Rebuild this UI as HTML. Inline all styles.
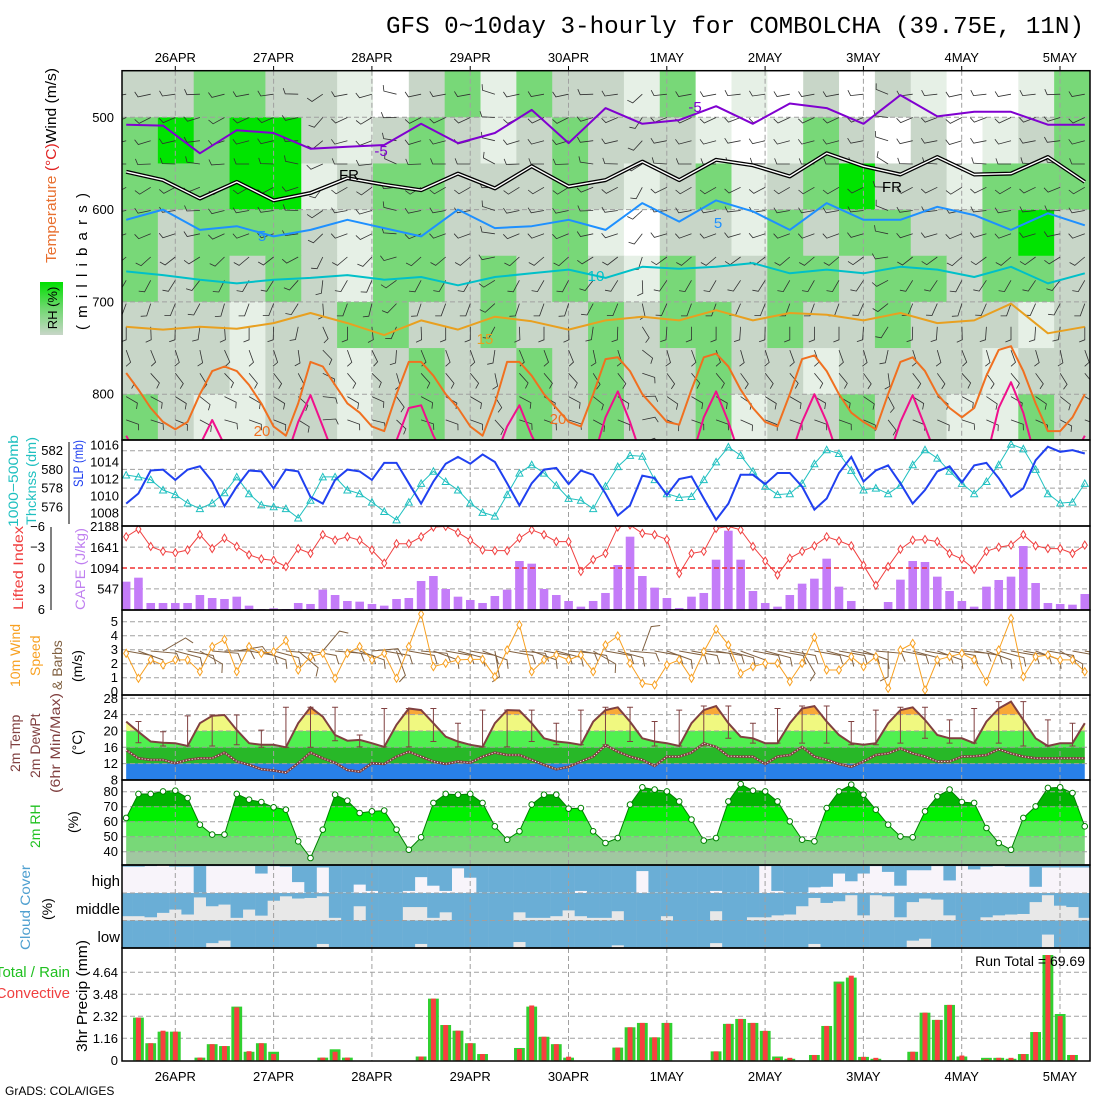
<!DOCTYPE html>
<html><head><meta charset="utf-8"><title>GFS meteogram COMBOLCHA</title>
<style>
html,body{margin:0;padding:0;background:#fff;}
svg{display:block;font-family:"Liberation Sans",sans-serif;}
</style></head>
<body>
<svg id="chart" width="1100" height="1100" viewBox="0 0 1100 1100" xmlns="http://www.w3.org/2000/svg">
<defs>
<clipPath id="cTop"><rect x="122" y="70.7" width="968" height="369.3"/></clipPath>
<clipPath id="cSlp"><rect x="122" y="440" width="968" height="86"/></clipPath>
<clipPath id="cCape"><rect x="122" y="526" width="968" height="84"/></clipPath>
<clipPath id="cWind"><rect x="122" y="610" width="968" height="85"/></clipPath>
<clipPath id="cTemp"><rect x="122" y="695" width="968" height="85"/></clipPath>
<clipPath id="cRh"><rect x="122" y="780" width="968" height="85"/></clipPath>
<clipPath id="cCloud"><rect x="122" y="865" width="968" height="83"/></clipPath>
<clipPath id="cPrecip"><rect x="122" y="948" width="968" height="113"/></clipPath>
<linearGradient id="rhbarGrad" x1="0" y1="0" x2="0" y2="1">
<stop offset="0" stop-color="#00e000"/><stop offset="0.5" stop-color="#70d870"/><stop offset="1" stop-color="#c8d6c8"/>
</linearGradient>
</defs>

<text x="386" y="33" font-family="Liberation Mono, monospace" font-size="24" textLength="698" lengthAdjust="spacingAndGlyphs">GFS 0~10day 3-hourly for COMBOLCHA (39.75E, 11N)</text>

<g id="gTop" clip-path="url(#cTop)"></g>
<g id="gSlp" clip-path="url(#cSlp)"></g>
<g id="gCape" clip-path="url(#cCape)"></g>
<g id="gWind" clip-path="url(#cWind)"></g>
<g id="gTemp" clip-path="url(#cTemp)"></g>
<g id="gRh" clip-path="url(#cRh)"></g>
<g id="gCloud" clip-path="url(#cCloud)"></g>
<g id="gPrecip" clip-path="url(#cPrecip)"></g>
<g id="gFrame"></g>
<g id="gAxis" font-size="13"></g>

<g>
<rect x="40" y="282" width="23" height="53" fill="url(#rhbarGrad)"/>
<text transform="translate(57,308) rotate(-90)" text-anchor="middle" font-size="13">RH (%)</text>
<text transform="translate(56,263) rotate(-90)" font-size="15" textLength="195" lengthAdjust="spacingAndGlyphs"><tspan fill="#e87030">Temperature</tspan><tspan fill="#e02020"> (°C)</tspan><tspan fill="#000">Wind (m/s)</tspan></text>
<text transform="translate(87,330) rotate(-90)" font-size="15" textLength="137" lengthAdjust="spacing">(millibars)</text>
</g>
<g font-size="14">
<text transform="translate(18,527) rotate(-90)" fill="#20c0c0" textLength="92" lengthAdjust="spacingAndGlyphs">1000−500mb</text>
<text transform="translate(36,525) rotate(-90)" fill="#20c0c0" textLength="88" lengthAdjust="spacingAndGlyphs">Thcknss (dm)</text>
<text transform="translate(83,487) rotate(-90)" fill="#2040f0" textLength="47" lengthAdjust="spacingAndGlyphs">SLP (mb)</text>
<text transform="translate(23,610) rotate(-90)" fill="#f04040" textLength="84" lengthAdjust="spacingAndGlyphs">Lifted Index</text>
<text transform="translate(85,610) rotate(-90)" fill="#c080f0" textLength="82" lengthAdjust="spacingAndGlyphs">CAPE (J/kg)</text>
<text transform="translate(20,687) rotate(-90)" fill="#f8a020">10m Wind</text>
<text transform="translate(40,676) rotate(-90)" fill="#f8a020">Speed</text>
<text transform="translate(62,690) rotate(-90)" fill="#806040">&amp; Barbs</text>
<text transform="translate(82,682) rotate(-90)" fill="#000">(m/s)</text>
<text transform="translate(20,772) rotate(-90)" fill="#804040">2m Temp</text>
<text transform="translate(40,778) rotate(-90)" fill="#804040">2m DewPt</text>
<text transform="translate(60,793) rotate(-90)" fill="#804040" textLength="100" lengthAdjust="spacingAndGlyphs">(6hr Min/Max)</text>
<text transform="translate(82,755) rotate(-90)" fill="#000">(°C)</text>
<text transform="translate(40,848) rotate(-90)" fill="#20c020">2m RH</text>
<text transform="translate(78,833) rotate(-90)" fill="#000">(%)</text>
<text transform="translate(30,950) rotate(-90)" fill="#50a0d0" textLength="85" lengthAdjust="spacingAndGlyphs">Cloud Cover</text>
<text transform="translate(52,920) rotate(-90)" fill="#000">(%)</text>
<text x="120" y="886" text-anchor="end" font-size="15">high</text>
<text x="120" y="914" text-anchor="end" font-size="15">middle</text>
<text x="120" y="942" text-anchor="end" font-size="15">low</text>
<text x="70" y="977" text-anchor="end" font-size="15" fill="#20c020">Total / Rain</text>
<text x="70" y="998" text-anchor="end" font-size="15" fill="#f04040">Convective</text>
<text transform="translate(87,1052) rotate(-90)" fill="#000" font-size="15" textLength="112" lengthAdjust="spacingAndGlyphs">3hr Precip (mm)</text>
<text x="1085" y="966" text-anchor="end" font-size="14">Run Total = 69.69</text>
<text x="5" y="1095" font-size="12">GrADS: COLA/IGES</text>
</g>

<script>
const dayLabels = ['26APR','27APR','28APR','29APR','30APR','1MAY','2MAY','3MAY','4MAY','5MAY'];
const pressTicks = [500,600,700,800];
const thickTicks = [582,580,578,576];
const slpTicks = [1016,1014,1012,1010,1008];
const liTicks = [-6,-3,0,3,6];
const capeTicks = [547,1094,1641,2188];
const spdTicks = [0,1,2,3,4,5];
const tempTicks = [28,24,20,16,12,8];
const rhTicks = [80,70,60,50,40];
const precipTicks = [0,1.16,2.32,3.48,4.64];

const slp = [1009.1,1010.3,1013.0,1013.1,1011.9,1013.1,1013.5,1011.7,1008.8,1011.1,1013.0,1012.9,1010.9,1013.1,1012.9,1009.9,1009.1,1011.9,1013.1,1012.9,1011.9,1013.9,1013.9,1011.5,1009.1,1011.7,1013.8,1014.6,1013.8,1014.9,1014.0,1011.5,1008.9,1011.5,1013.1,1013.3,1011.4,1013.0,1012.5,1010.3,1007.7,1008.9,1012.4,1012.1,1010.1,1012.0,1012.3,1009.7,1007.2,1009.1,1012.5,1012.5,1011.4,1012.7,1012.7,1011.1,1008.4,1009.7,1012.7,1014.6,1011.7,1013.0,1013.6,1011.5,1009.1,1010.7,1012.9,1013.5,1011.6,1013.6,1013.9,1012.1,1009.9,1010.9,1014.2,1015.8,1015.2,1015.4,1015.0];
const thickness = [579.4,579.2,578.9,577.8,577.3,576.4,575.8,576.4,577.5,579.2,577.4,576.2,576.0,575.8,574.8,576.7,579.2,579.2,577.8,577.4,576.5,575.5,574.6,576.5,578.5,579.8,578.7,577.8,576.4,575.4,575.0,577.3,579.6,580.5,579.6,578.3,576.9,576.7,575.8,578.2,580.3,581.5,581.4,578.9,577.4,577.0,577.1,578.9,580.8,582.4,581.5,579.8,578.2,577.3,577.4,578.5,580.6,582.1,581.7,579.9,577.8,578.0,577.4,578.3,580.5,582.1,581.2,579.8,578.5,577.4,578.7,580.5,582.7,582.2,580.0,577.4,576.4,576.5,578.5];
const cape = [744,849,184,184,184,184,394,315,289,350,114,26,44,26,184,158,534,394,237,219,158,114,289,315,762,893,552,350,263,184,368,534,1287,1217,552,394,237,88,237,447,1182,1926,893,587,315,53,350,447,1322,2084,1322,499,184,88,394,692,823,1348,613,237,26,0,210,797,1287,1261,876,499,237,88,613,788,876,1681,709,184,158,140,420];
const liftedIndex = [-4.5,-5.6,-3.1,-2.4,-2.2,-2.6,-4.8,-2.8,-4.3,-3.1,-1.9,-1.3,-1.1,-0.2,-2.8,-2.1,-4.8,-4.0,-4.5,-4.0,-2.6,-0.7,-3.5,-3.5,-4.5,-5.9,-6.0,-5.1,-4.0,-2.6,-2.5,-2.5,-4.3,-5.5,-4.8,-3.8,-3.8,0.5,-1.2,-2.1,-5.9,-6.2,-5.0,-4.8,-4.1,0.8,-2.1,-2.4,-5.7,-6.0,-5.5,-3.1,-1.0,1.0,-1.4,-2.4,-3.2,-4.5,-3.9,-3.2,-0.4,2.5,-0.2,-2.7,-4.0,-4.1,-3.8,-2.1,-1.3,0.2,-2.4,-3.0,-3.3,-4.8,-3.2,-2.8,-2.8,-2.1,-3.3];
const windSpeed = [2.74,0.96,2.27,1.91,2.27,2.27,1.43,3.22,3.74,1.43,3.22,2.74,2.86,3.65,1.55,2.5,2.74,0.96,2.74,3.22,2.27,2.74,0.96,3.22,5.55,1.79,2.03,2.27,2.31,2.31,1.07,2.98,4.77,1.43,2.27,2.62,2.27,2.62,1.43,3.34,3.98,2.03,0.6,0.48,1.91,2.27,0.96,2.86,4.46,3.34,1.31,1.79,2.03,2.03,0.72,2.03,3.88,1.55,1.55,2.5,1.79,2.5,0.24,2.98,3.45,0.12,2.27,2.5,2.74,2.27,0.72,2.98,5.24,1.07,2.5,2.62,2.27,2.27,1.43];
const windDir = [100,110,95,60,105,100,120,95,90,80,100,110,105,95,130,100,40,95,100,110,85,100,160,100,95,110,100,105,100,110,170,100,95,110,100,105,95,100,120,100,105,95,20,100,110,100,100,95,100,105,110,100,105,100,100,150,100,105,100,100,110,95,180,100,105,100,110,100,95,100,110,105,100,100,110,100,120,100,100];
const temp2m = [22.3,19.8,17.4,17.1,17.0,16.3,21.9,23.7,23.9,20.2,17.0,16.6,16.6,16.0,21.9,25.8,23.5,19.0,17.6,17.8,17.0,16.1,21.5,25.5,25.1,21.9,18.6,17.4,16.6,16.1,21.9,25.1,25.0,21.9,18.2,17.4,17.1,16.6,22.3,25.1,25.8,22.3,18.2,17.4,17.0,16.3,21.9,25.1,26.1,21.9,18.6,18.2,17.0,17.0,21.9,25.5,26.1,22.3,19.0,17.0,16.6,17.0,21.9,25.1,25.8,22.7,19.0,18.2,18.2,17.0,22.3,25.5,27.2,22.7,18.2,16.3,17.0,17.0,21.9];
const dewPt2m = [15.3,13.3,12.9,12.9,12.1,12.9,13.3,13.3,14.7,12.5,11.7,10.6,10.3,9.8,12.1,14.7,13.3,12.2,10.4,10.0,12.1,11.9,13.7,14.9,13.7,12.5,11.9,12.5,12.2,13.7,14.7,14.1,14.1,12.9,11.7,10.6,11.2,12.5,13.7,16.5,14.9,13.7,12.9,11.4,13.7,13.7,14.7,17.0,16.1,13.8,13.7,13.7,11.9,13.7,14.1,16.1,13.7,12.9,11.9,11.2,12.5,14.1,14.5,15.7,14.5,13.7,12.5,12.5,13.7,13.8,14.1,15.5,14.5,13.7,13.3,13.3,13.3,13.3,13.3];
const rh2m = [62.5,78.5,78.5,80.2,80.7,75.8,58.0,51.4,51.4,78.5,74.7,73.1,69.6,68.0,46.9,35.8,54.7,78.0,74.0,65.8,66.9,67.4,54.7,41.3,49.6,72.5,78.5,78.0,78.5,72.5,56.9,48.0,53.6,71.4,78.0,78.0,68.7,69.1,53.6,45.8,49.1,71.4,82.9,81.4,80.2,73.5,61.4,47.4,49.1,73.5,85.1,80.7,80.2,73.5,60.2,48.0,46.9,69.1,80.2,84.7,78.0,68.0,58.0,50.2,49.6,66.9,76.9,81.4,73.1,72.5,55.8,45.8,41.3,62.5,70.2,82.5,82.9,79.1,56.9];
const cloudHigh = [6,6,4,0,6,6,100,4,4,4,4,31,4,6,62,100,9,100,100,71,94,100,100,94,44,75,94,12,46,100,100,100,100,100,100,100,100,94,100,100,100,100,22,100,100,100,100,100,94,100,100,100,4,94,100,100,81,79,31,59,31,4,25,75,19,19,4,56,4,16,6,4,6,6,79,9,9,9,9];
const cloudMid = [84,84,88,72,60,78,16,48,42,90,60,82,28,12,20,18,12,90,100,48,100,100,100,51,51,90,70,100,100,100,100,100,70,90,90,84,63,84,90,90,66,100,100,100,84,100,100,100,66,100,100,88,88,81,78,48,18,36,30,8,81,8,12,88,33,20,24,81,100,100,88,81,78,76,33,8,46,51,90];
const cloudLow = [100,100,100,100,100,100,100,82,73,100,100,100,100,100,100,100,85,100,100,100,100,100,100,100,85,100,100,100,100,100,100,100,78,100,100,100,100,100,100,100,90,100,100,100,100,100,100,100,82,100,100,100,100,100,100,100,85,100,100,100,100,100,100,100,73,66,100,100,100,100,100,100,100,100,100,51,100,100,100];
const precipTotal = [0,2.25,0.9,1.51,1.51,0,0.14,0.85,0.75,2.83,0.45,0.9,0.45,0,0,0,0.14,0.58,0.14,0,0,0,0,0,0.2,3.25,1.86,1.56,0.9,0.33,0,0,0.65,2.83,1.24,0.85,0.14,0,0,0,0.67,1.74,1.97,1.21,1.97,0,0,0,0.47,1.92,2.18,1.97,1.55,0.2,0.08,0,0.28,1.81,4.15,4.36,0.18,0.08,0,0,0.45,2.51,2.13,2.92,0.2,0,0.13,0.13,0.08,0.33,1.49,5.55,2.44,0.28,0];
const precipConv = [0,2.25,0.9,1.56,1.51,0,0.14,0.85,0.75,2.79,0.48,0.9,0.33,0,0,0,0.14,0.45,0.14,0,0,0,0,0,0.2,3.25,1.86,1.56,0.9,0.33,0,0,0.6,2.89,1.24,0.85,0.19,0,0,0,0.67,1.74,1.97,1.21,1.97,0,0,0,0.47,1.92,2.18,1.97,1.55,0.13,0.13,0,0.28,1.81,4.04,4.46,0.18,0.13,0,0,0.45,2.51,2.13,2.92,0.25,0,0.05,0.13,0.13,0.33,1.49,5.55,2.33,0.28,0];

const rhRow0 = [2,2,3,3,2,2,1,0,2,3,1,3,2,2,1,3,0,1,0,2,0,2,1,0,0,1,3];
const rhRow1 = [3,4,3,4,4,2,1,2,3,2,1,2,3,2,2,2,1,0,1,3,2,0,2,0,1,2,3];
const rhRow2 = [3,3,3,4,4,1,2,3,3,2,2,2,3,2,1,2,3,1,2,3,4,2,2,1,3,3,3];
const rhRow3 = [3,2,3,3,3,2,1,3,3,2,2,2,3,1,0,2,2,1,3,2,3,3,2,2,3,4,2];
const rhRow4 = [3,2,3,2,3,2,1,3,3,2,3,2,3,2,1,3,2,2,3,3,2,3,3,2,3,3,2];
const rhRow5 = [2,2,2,1,2,2,3,3,2,2,3,2,2,3,2,3,3,2,3,2,2,3,2,2,2,1,2];
const rhRow6 = [2,2,2,1,2,2,1,2,3,2,2,3,2,3,2,2,3,2,2,1,2,2,2,2,1,2,2];
const rhRow7 = [3,2,1,1,2,2,1,2,3,2,2,3,2,3,2,2,3,1,2,2,3,2,2,1,1,3,2];
const isoM5 = [508,509,539,514,517,534,532,530,507,528,517,492,528,490,507,503,488,507,485,490,507,476,499,494,494,508,508];
const iso0 = [559,568,588,570,590,582,566,573,579,561,577,553,575,568,548,568,546,552,564,539,553,562,543,562,561,543,570];
const iso5 = [611,600,622,618,629,622,611,620,629,600,620,618,611,622,593,613,590,602,622,593,611,611,597,606,622,604,617];
const iso10 = [667,671,676,680,676,674,671,676,673,682,673,669,665,674,662,664,662,658,669,665,669,662,665,673,662,680,669];
const iso15 = [727,730,727,729,723,712,723,736,720,730,716,721,730,720,716,720,709,720,712,714,720,712,723,720,702,734,727];
const iso20 = [777,795,815,830,838,830,800,775,770,775,790,810,835,845,810,765,770,790,810,820,835,840,800,765,765,780,800,815,835,845,810,765,765,780,800,815,830,835,800,762,760,775,800,815,830,833,795,760,756,770,795,815,830,835,800,762,758,775,800,820,830,838,800,765,760,775,800,815,825,815,780,752,748,775,810,840,840,825,800];
const iso25 = [845,870,870,870,870,870,855,828,855,870,870,870,870,870,830,801,835,870,870,870,870,870,850,815,812,845,870,870,870,870,870,835,812,845,870,870,870,870,870,825,797,830,870,870,870,870,870,825,797,830,870,870,870,870,870,830,800,830,870,870,870,870,870,830,801,835,870,870,870,870,870,815,787,820,870,870,870,870,845];
const upperDirs = [250,260,245,255,270,240,260,250,230,210,200,180,160,140,120,110,100];

const NS = 'http://www.w3.org/2000/svg';
function mk(tag, parent, attrs) {
  const e = document.createElementNS(NS, tag);
  for (const k in attrs) e.setAttribute(k, attrs[k]);
  parent.appendChild(e);
  return e;
}
const X0 = 122, X1 = 1090;
const xAt = i => 126.15 + 12.29 * i;
const dayX = d => 175.3 + 98.3 * d;
const pY = p => 117.3 + (p - 500) * 0.923;
const ySlp = v => 445 + (1016 - v) * 8.5;
const yTh = v => 450.7 + (582 - v) * 9.35;
const yCape = v => 610 - v * 83.3 / 2188;
const yLI = v => 568 + v * 6.94;
const ySpd = v => 691.7 - v * 14;
const yT = v => 698.3 + (28 - v) * 4.08;
const yRH = v => 791.7 + (80 - v) * 1.5;
const yP = v => 1060.3 - v * 18.97;
const pts = (arr, yf, xf) => arr.map((v, i) => (xf ? xf(i) : xAt(i)).toFixed(1) + ',' + yf(v).toFixed(1)).join(' ');

const gTop = document.getElementById('gTop');
const gSlp = document.getElementById('gSlp');
const gCape = document.getElementById('gCape');
const gWind = document.getElementById('gWind');
const gTemp = document.getElementById('gTemp');
const gRh = document.getElementById('gRh');
const gCloud = document.getElementById('gCloud');
const gPrecip = document.getElementById('gPrecip');
const gFrame = document.getElementById('gFrame');
const gAxis = document.getElementById('gAxis');

function hgrid(g, y, name) {
  const l = mk('line', g, {x1: X0, x2: X1, y1: y, y2: y, stroke: '#a0a0a0', 'stroke-dasharray': '5,3', 'stroke-width': 1});
  
  
}
function vgrid(g, y1, y2) {
  dayLabels.forEach((d, k) => {
    const l = mk('line', g, {x1: dayX(k), x2: dayX(k), y1: y1, y2: y2, stroke: '#a0a0a0', 'stroke-dasharray': '5,3', 'stroke-width': 1});
    
    
  });
}
function tickLabel(x, y, txt, name, anchor) {
  const t = mk('text', gAxis, {x: x, y: y + 4.5, 'text-anchor': anchor || 'end'});
  t.textContent = txt;
  
  
}

const rhRows = [rhRow0, rhRow1, rhRow2, rhRow3, rhRow4, rhRow5, rhRow6, rhRow7];
const rhColors = ['#ffffff', '#e6f0e6', '#c8d6c8', '#78d878', '#00e400'];
const colW = (X1 - X0) / 27;
rhRows.forEach((row, r) => {
  row.forEach((cls, c) => {
    const y1 = pY(450 + 50 * r), y2 = pY(500 + 50 * r);
    const cell = mk('rect', gTop, {x: X0 + c * colW, y: y1, width: colW + 0.6, height: y2 - y1 + 0.6, fill: rhColors[cls]});
    
    
  });
});
pressTicks.forEach(p => hgrid(gTop, pY(p), 'pressure-gridline-' + p));
vgrid(gTop, 70.7, 440);
for (let k = 1; k < 17; k++) {
  for (let i = 0; i < 79; i += 2) {
    const th = (upperDirs[k] + (windDir[i] - 100) * 0.4) * Math.PI / 180;
    const x = xAt(i), y = pY(455 + 30 * (k - 1) * 0.84 + 20);
    const ex = x + Math.sin(th) * 13, ey = y - Math.cos(th) * 13;
    const fx = ex + Math.sin(th + 1.2) * 6, fy = ey - Math.cos(th + 1.2) * 6;
    const b = mk('path', gTop, {d: `M${x.toFixed(1)},${y.toFixed(1)}L${ex.toFixed(1)},${ey.toFixed(1)}L${fx.toFixed(1)},${fy.toFixed(1)}`, stroke: '#303030', 'stroke-width': 0.8, fill: 'none'});
    
    
  }
}
const x9 = k => xAt(3 * k);
function isoLine(arr, xf, color, w, name) {
  const l = mk('polyline', gTop, {points: pts(arr, pY, xf), fill: 'none', stroke: color, 'stroke-width': w, 'stroke-linejoin': 'round'});
  
  
}
isoLine(isoM5, x9, '#8000d0', 2, 'isotherm-minus5');
isoLine(iso0, x9, '#000000', 4, 'freezing-level-outer');
isoLine(iso0, x9, '#ffffff', 1.4, 'freezing-level-inner');
isoLine(iso5, x9, '#1e90ff', 2, 'isotherm-5');
isoLine(iso10, x9, '#00c0c8', 2, 'isotherm-10');
isoLine(iso15, x9, '#e8a020', 2, 'isotherm-15');
isoLine(iso20, null, '#f07020', 2, 'isotherm-20');
isoLine(iso25, null, '#f0108c', 2, 'isotherm-25');
[['-5', 695, 112, '#8000d0'], ['-5', 381, 156, '#8000d0'], ['FR', 349, 180, '#000'], ['FR', 892, 192, '#000'],
 ['5', 262, 241, '#1e90ff'], ['5', 718, 228, '#1e90ff'], ['10', 596, 281, '#00c0c8'], ['15', 485, 344, '#e8a020'],
 ['20', 262, 436, '#f07020'], ['20', 558, 424, '#f07020']].forEach(lb => {
  const t = mk('text', gTop, {x: lb[1], y: lb[2], fill: lb[3], 'font-size': 15, 'text-anchor': 'middle'});
  t.textContent = lb[0];
  
  
});

thickTicks.forEach(v => hgrid(gSlp, yTh(v), 'thickness-gridline'));
vgrid(gSlp, 440, 526);
{
  const l = mk('polyline', gSlp, {points: pts(thickness, yTh), fill: 'none', stroke: '#20c0c0', 'stroke-width': 1});
  
  
  thickness.forEach((v, i) => {
    const x = xAt(i), y = yTh(v);
    const m = mk('path', gSlp, {d: `M${x - 3.5},${y + 3}L${x},${y - 3.5}L${x + 3.5},${y + 3}Z`, fill: 'none', stroke: '#20c0c0', 'stroke-width': 1});
    
    
  });
  const s = mk('polyline', gSlp, {points: pts(slp, ySlp), fill: 'none', stroke: '#2040f0', 'stroke-width': 2});
  
  
}

[-3, 3].forEach(v => hgrid(gCape, yLI(v), 'li-gridline'));
vgrid(gCape, 526, 610);
cape.forEach((v, i) => {
  const b = mk('rect', gCape, {x: xAt(i) - 4.3, y: yCape(v), width: 8.6, height: 610 - yCape(v), fill: '#c47cf8'});
  
  
});
{
  const z = mk('line', gCape, {x1: X0, x2: X1, y1: yLI(0), y2: yLI(0), stroke: '#f03030', 'stroke-width': 1.5, 'stroke-dasharray': '5,3'});
  
  
  const l = mk('polyline', gCape, {points: pts(liftedIndex, yLI), fill: 'none', stroke: '#f04040', 'stroke-width': 1});
  
  
  liftedIndex.forEach((v, i) => {
    const x = xAt(i), y = yLI(v);
    const m = mk('path', gCape, {d: `M${x - 2.5},${y}L${x},${y - 4}L${x + 2.5},${y}L${x},${y + 4}Z`, fill: '#fff', stroke: '#f04040', 'stroke-width': 1});
    
    
  });
}

[1, 2, 3, 4, 5].forEach(v => hgrid(gWind, ySpd(v), 'wind-gridline'));
vgrid(gWind, 610, 695);
windDir.forEach((d, i) => {
  const th = d * Math.PI / 180, x = xAt(i), y = 651;
  const ex = x + Math.sin(th) * 26, ey = y - Math.cos(th) * 26;
  const fx = ex + Math.sin(th + 1.1) * 9, fy = ey - Math.cos(th + 1.1) * 9;
  const b = mk('path', gWind, {d: `M${x.toFixed(1)},${y}L${ex.toFixed(1)},${ey.toFixed(1)}L${fx.toFixed(1)},${fy.toFixed(1)}`, fill: 'none', stroke: '#806040', 'stroke-width': 1});
  
  
});
{
  const l = mk('polyline', gWind, {points: pts(windSpeed, ySpd), fill: 'none', stroke: '#f8a020', 'stroke-width': 1});
  
  
  windSpeed.forEach((v, i) => {
    const x = xAt(i), y = ySpd(v);
    const m = mk('path', gWind, {d: `M${x - 2.5},${y}L${x},${y - 4}L${x + 2.5},${y}L${x},${y + 4}Z`, fill: '#fff', stroke: '#f8a020', 'stroke-width': 1});
    
    
  });
}

{
  const defs = document.querySelector('defs');
  const cp = mk('clipPath', defs, {id: 'tempArea'});
  mk('polygon', cp, {points: pts(temp2m, yT) + ` ${xAt(78)},780 ${xAt(0)},780`});
  const fillG = mk('g', gTemp, {'clip-path': 'url(#tempArea)'});
  
  
  [[40, 24, '#f8a838'], [24, 20, '#f0f880'], [20, 16, '#50f050'], [16, 12, '#28b828'], [12, 0, '#2880e8']].forEach(bd => {
    const r = mk('rect', fillG, {x: X0, y: yT(bd[0]), width: X1 - X0, height: yT(bd[1]) - yT(bd[0]), fill: bd[2]});
    
    
  });
}
tempTicks.forEach(v => hgrid(gTemp, yT(v), 'temp-gridline'));
vgrid(gTemp, 695, 780);
for (let i = 1; i < 79; i += 2) {
  const win = temp2m.slice(Math.max(0, i - 2), Math.min(79, i + 3));
  const hi = Math.max(...win), lo = Math.min(...win);
  const x = xAt(i);
  const e = mk('path', gTemp, {d: `M${x},${yT(hi)}L${x},${yT(lo)}M${x - 3},${yT(hi)}L${x + 3},${yT(hi)}M${x - 3},${yT(lo)}L${x + 3},${yT(lo)}`, stroke: '#804040', 'stroke-width': 1, fill: 'none'});
  
  
}
{
  const d1 = mk('polyline', gTemp, {points: pts(dewPt2m, yT), fill: 'none', stroke: '#804040', 'stroke-width': 2.5});
  
  
  const d2 = mk('polyline', gTemp, {points: pts(dewPt2m, yT), fill: 'none', stroke: '#ffffff', 'stroke-width': 1, 'stroke-dasharray': '1,2'});
  
  
  const t = mk('polyline', gTemp, {points: pts(temp2m, yT), fill: 'none', stroke: '#804040', 'stroke-width': 2});
  
  
}

{
  const defs = document.querySelector('defs');
  const cp = mk('clipPath', defs, {id: 'rhArea'});
  mk('polygon', cp, {points: pts(rh2m, yRH) + ` ${xAt(78)},865 ${xAt(0)},865`});
  const fillG = mk('g', gRh, {'clip-path': 'url(#rhArea)'});
  
  
  [[100, 70, '#00b400'], [70, 60, '#00f000'], [60, 50, '#50ee50'], [50, 40, '#78d878'], [40, 0, '#a0c8a0']].forEach(bd => {
    const r = mk('rect', fillG, {x: X0, y: yRH(bd[0]), width: X1 - X0, height: yRH(bd[1]) - yRH(bd[0]), fill: bd[2]});
    
    
  });
}
rhTicks.forEach(v => hgrid(gRh, yRH(v), 'rh-gridline'));
vgrid(gRh, 780, 865);
{
  const l = mk('polyline', gRh, {points: pts(rh2m, yRH), fill: 'none', stroke: '#008000', 'stroke-width': 1});
  
  
  rh2m.forEach((v, i) => {
    const c = mk('circle', gRh, {cx: xAt(i), cy: yRH(v), r: 2.8, fill: '#fff', stroke: '#008000', 'stroke-width': 1});
    
    
  });
}

const rowTop = [865, 893, 920.5], rowH = 27.6;
[[cloudHigh, '#f8f4fa', 'high'], [cloudMid, '#e8e8e8', 'mid'], [cloudLow, '#e8e8e8', 'low']].forEach((row, r) => {
  const bg = mk('rect', gCloud, {x: X0, y: rowTop[r], width: X1 - X0, height: rowH, fill: row[1]});
  
  
  row[0].forEach((v, i) => {
    const b = mk('rect', gCloud, {x: xAt(i) - 6.2, y: rowTop[r], width: 12.5, height: rowH * v / 100, fill: '#6aaed6'});
    
    
  });
});
[893, 920.5].forEach(y => hgrid(gCloud, y, 'cloud-row-separator'));
vgrid(gCloud, 865, 948);

precipTicks.slice(1).forEach(v => hgrid(gPrecip, yP(v), 'precip-gridline'));
vgrid(gPrecip, 948, 1061);
precipTotal.forEach((v, i) => {
  if (v > 0) {
    const b = mk('rect', gPrecip, {x: xAt(i) - 5.4, y: yP(v), width: 10.8, height: yP(0) - yP(v), fill: '#30d030'});
    
    
  }
});
precipConv.forEach((v, i) => {
  if (v > 0) {
    const b = mk('rect', gPrecip, {x: xAt(i) - 2.5, y: yP(v), width: 5, height: yP(0) - yP(v), fill: '#f84040'});
    
    
  }
});

[[70.7, 440], [440, 526], [526, 610], [610, 695], [695, 780], [780, 865], [865, 948], [948, 1061]].forEach(pr => {
  const r = mk('rect', gFrame, {x: X0, y: pr[0], width: X1 - X0, height: pr[1] - pr[0], fill: 'none', stroke: '#000', 'stroke-width': 1.5});
  
  
});
[[69, 442, 524], [51, 527, 610]].forEach(a => {
  const l = mk('line', gFrame, {x1: a[0], x2: a[0], y1: a[1], y2: a[2], stroke: '#000', 'stroke-width': 1});
  
  
});

dayLabels.forEach((d, k) => {
  tickLabel(dayX(k), 57.5, d, 'top-date-label', 'middle');
  tickLabel(dayX(k), 1076.5, d, 'bottom-date-label', 'middle');
  const tk = mk('line', gAxis, {x1: dayX(k), x2: dayX(k), y1: 66, y2: 71, stroke: '#000'});
  
  
});
pressTicks.forEach(p => tickLabel(114, pY(p), String(p), 'pressure-tick-label'));
thickTicks.forEach(v => tickLabel(63, yTh(v), String(v), 'thickness-tick-label'));
slpTicks.forEach(v => tickLabel(119, ySlp(v), String(v), 'slp-tick-label'));
liTicks.forEach(v => tickLabel(45, yLI(v), v < 0 ? '−' + (-v) : String(v), 'li-tick-label'));
capeTicks.forEach(v => tickLabel(119, yCape(v), String(v), 'cape-tick-label'));
spdTicks.forEach(v => tickLabel(118, ySpd(v), String(v), 'wind-tick-label'));
tempTicks.forEach(v => tickLabel(118, yT(v), String(v), 'temp-tick-label'));
rhTicks.forEach(v => tickLabel(118, yRH(v), String(v), 'rh-tick-label'));
precipTicks.forEach(v => tickLabel(118, yP(v), v === 0 ? '0' : v.toFixed(2), 'precip-tick-label'));
</script>
</body></html>
